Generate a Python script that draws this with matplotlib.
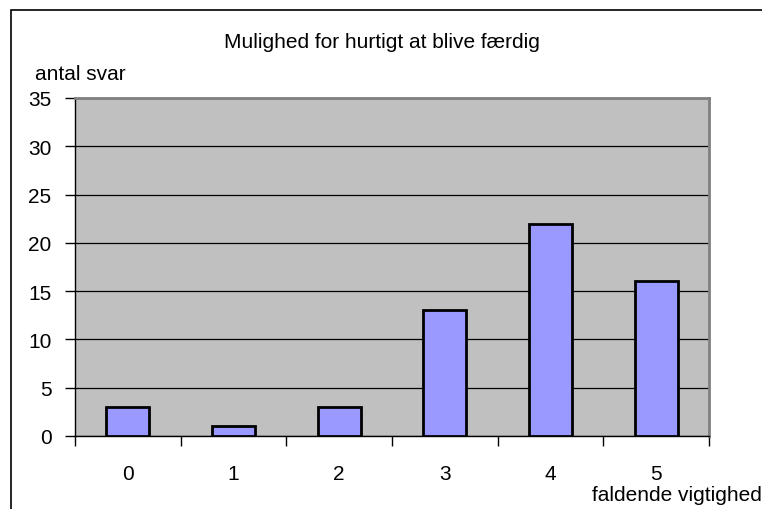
import matplotlib
matplotlib.use("Agg")
import matplotlib.pyplot as plt
from matplotlib.patches import Rectangle

plt.rcParams['font.family'] = ['Liberation Sans', 'DejaVu Sans']

# data
categories = ['0', '1', '2', '3', '4', '5']
answers = [3, 1, 3, 13, 22, 16]
y_ticks = [0, 5, 10, 15, 20, 25, 30, 35]

FS = 15

fig = plt.figure(figsize=(7.62, 5.10), dpi=100)
W, H = 762, 510

# outer chart border (runs off the right and bottom edges)
fig.patches.append(Rectangle((11 / W, -0.1), 1.2, 1 - 11 / H + 0.1,
                             transform=fig.transFigure, fill=False,
                             edgecolor='black', linewidth=1.2))

ax = fig.add_axes([75 / W, 1 - 437 / H, (709 - 75) / W, (437 - 99) / H])
ax.set_facecolor('#C0C0C0')

x = list(range(len(categories)))
ax.bar(x, answers, width=0.41, color='#9999FF', edgecolor='black',
       linewidth=2, zorder=3)

ax.set_xlim(-0.5, len(categories) - 0.5)
ax.set_ylim(0, 35)
ax.set_yticks(y_ticks)
ax.set_yticklabels([str(v) for v in y_ticks], fontsize=FS)
ax.yaxis.grid(True, color='black', linewidth=0.9)
ax.set_axisbelow(True)

# x ticks sit on the category boundaries, labels in the middle
ax.set_xticks([i - 0.5 for i in range(len(categories) + 1)])
ax.set_xticklabels([])
ax.set_xticks(x, minor=True)
ax.set_xticklabels(categories, minor=True, fontsize=FS)
ax.tick_params(axis='x', which='minor', length=0, pad=20)
ax.tick_params(axis='x', which='major', length=7, width=1, direction='out')
ax.tick_params(axis='y', length=7, width=1, direction='out', pad=10)

for side in ['top', 'right']:
    ax.spines[side].set_color('#808080')
    ax.spines[side].set_linewidth(2)
for side in ['left', 'bottom']:
    ax.spines[side].set_color('black')
    ax.spines[side].set_linewidth(1)

fig.text(382 / W, 1 - 42 / H, 'Mulighed for hurtigt at blive færdig',
         ha='center', va='center', fontsize=FS)
fig.text(35 / W, 1 - 74 / H, 'antal svar', ha='left', va='center', fontsize=FS)
fig.text(762 / W, 1 - 496 / H, 'faldende vigtighed', ha='right', va='center',
         fontsize=FS)

fig.savefig('out.png', dpi=100)
